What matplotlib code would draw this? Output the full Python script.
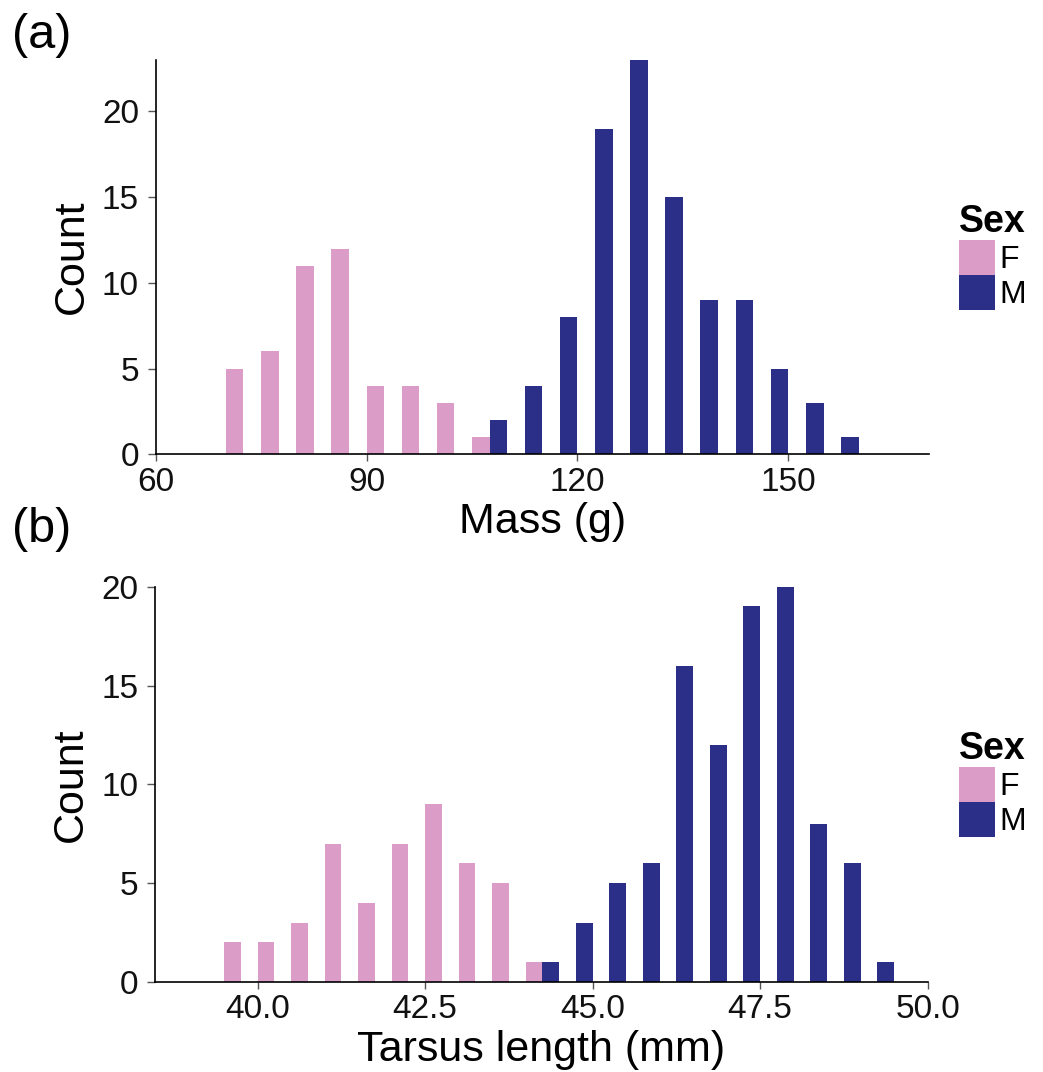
import matplotlib
matplotlib.use("Agg")
import matplotlib.pyplot as plt
from matplotlib.patches import Patch

#data (left bin edges and counts per sex)
mass_bins = [70, 75, 80, 85, 90, 95, 100, 105, 110, 115, 120, 125, 130, 135, 140, 145, 150, 155]
mass_f = [5, 6, 11, 12, 4, 4, 3, 1, 0, 0, 0, 0, 0, 0, 0, 0, 0, 0]
mass_m = [0, 0, 0, 0, 0, 0, 0, 2, 4, 8, 19, 23, 15, 9, 9, 5, 3, 1]
mass_binwidth = 5

tarsus_bins = [39.5, 40.0, 40.5, 41.0, 41.5, 42.0, 42.5, 43.0, 43.5, 44.0,
               44.5, 45.0, 45.5, 46.0, 46.5, 47.0, 47.5, 48.0, 48.5, 49.0]
tarsus_f = [2, 2, 3, 7, 4, 7, 9, 6, 5, 1, 0, 0, 0, 0, 0, 0, 0, 0, 0, 0]
tarsus_m = [0, 0, 0, 0, 0, 0, 0, 0, 0, 1, 3, 5, 6, 16, 12, 19, 20, 8, 6, 1]
tarsus_binwidth = 0.5

mass_ticks = [60, 90, 120, 150]
tarsus_ticks = [40.0, 42.5, 45.0, 47.5, 50.0]
tarsus_ticklabels = ["40.0", "42.5", "45.0", "47.5", "50.0"]
count_ticks = [0, 5, 10, 15, 20]

sexes = ["F", "M"]
colors = {"F": "#DB9CC8", "M": "#2B2F87"}

plt.rcParams['font.family'] = ['Liberation Sans', 'DejaVu Sans']

W, H = 1043, 1072
fig = plt.figure(figsize=(W / 100, H / 100), dpi=100)


def px_axes(left, top, right, bottom):
    """axes from pixel box of the reference"""
    return fig.add_axes([left / W, 1 - bottom / H, (right - left) / W, (bottom - top) / H])


def draw_panel(ax, bins, f, m, bw, xlim, ylim, xticks, xticklabels, xlabel):
    #dodged histogram: F on the left half of each bin, M on the right half
    ax.bar(bins, f, width=bw / 2, align='edge', color=colors["F"], linewidth=0)
    ax.bar([b + bw / 2 for b in bins], m, width=bw / 2, align='edge', color=colors["M"], linewidth=0)
    ax.set_xlim(*xlim)
    ax.set_ylim(*ylim)
    ax.set_xticks(xticks)
    ax.set_xticklabels(xticklabels)
    ax.set_yticks(count_ticks)
    for s in ["top", "right"]:
        ax.spines[s].set_visible(False)
    for s in ["left", "bottom"]:
        ax.spines[s].set_linewidth(1.2)
        ax.spines[s].set_color("black")
    ax.tick_params(axis='x', length=5, width=1, color='#555555', labelsize=24, pad=4, labelcolor='#111111')
    ax.tick_params(axis='y', length=6, width=1, color='#555555', labelsize=24, pad=6, labelcolor='#111111')
    ax.set_xlabel(xlabel, fontsize=31, labelpad=3)
    ax.set_ylabel("Count", fontsize=31)
    ax.yaxis.set_label_coords(-0.083, 0.5)
    handles = [Patch(facecolor=colors[s], edgecolor='none') for s in sexes]
    pos = ax.get_position()
    ax.legend(handles, sexes, title="Sex", loc='center left',
              bbox_to_anchor=(959 / W, pos.y0 + pos.height / 2), bbox_transform=fig.transFigure,
              frameon=False, fontsize=23, title_fontproperties={'weight': 'bold', 'size': 27},
              alignment='left', handlelength=1.12, handleheight=1.3, handletextpad=0.15,
              labelspacing=0.0, borderpad=0, borderaxespad=0)


ax1 = px_axes(155.6, 60, 929, 454.3)
draw_panel(ax1, mass_bins, mass_f, mass_m, mass_binwidth, (60, 170), (0, 23),
           mass_ticks, [str(t) for t in mass_ticks], "Mass (g)")

ax2 = px_axes(155, 586.7, 927.7, 982)
draw_panel(ax2, tarsus_bins, tarsus_f, tarsus_m, tarsus_binwidth, (38.47, 50), (0, 20),
           tarsus_ticks, tarsus_ticklabels, "Tarsus length (mm)")

#panel letters
fig.text(12 / W, 1 - 35 / H, "(a)", fontsize=35, va='center', ha='left')
fig.text(12 / W, 1 - 529 / H, "(b)", fontsize=35, va='center', ha='left')

fig.savefig("out.png", dpi=100)
